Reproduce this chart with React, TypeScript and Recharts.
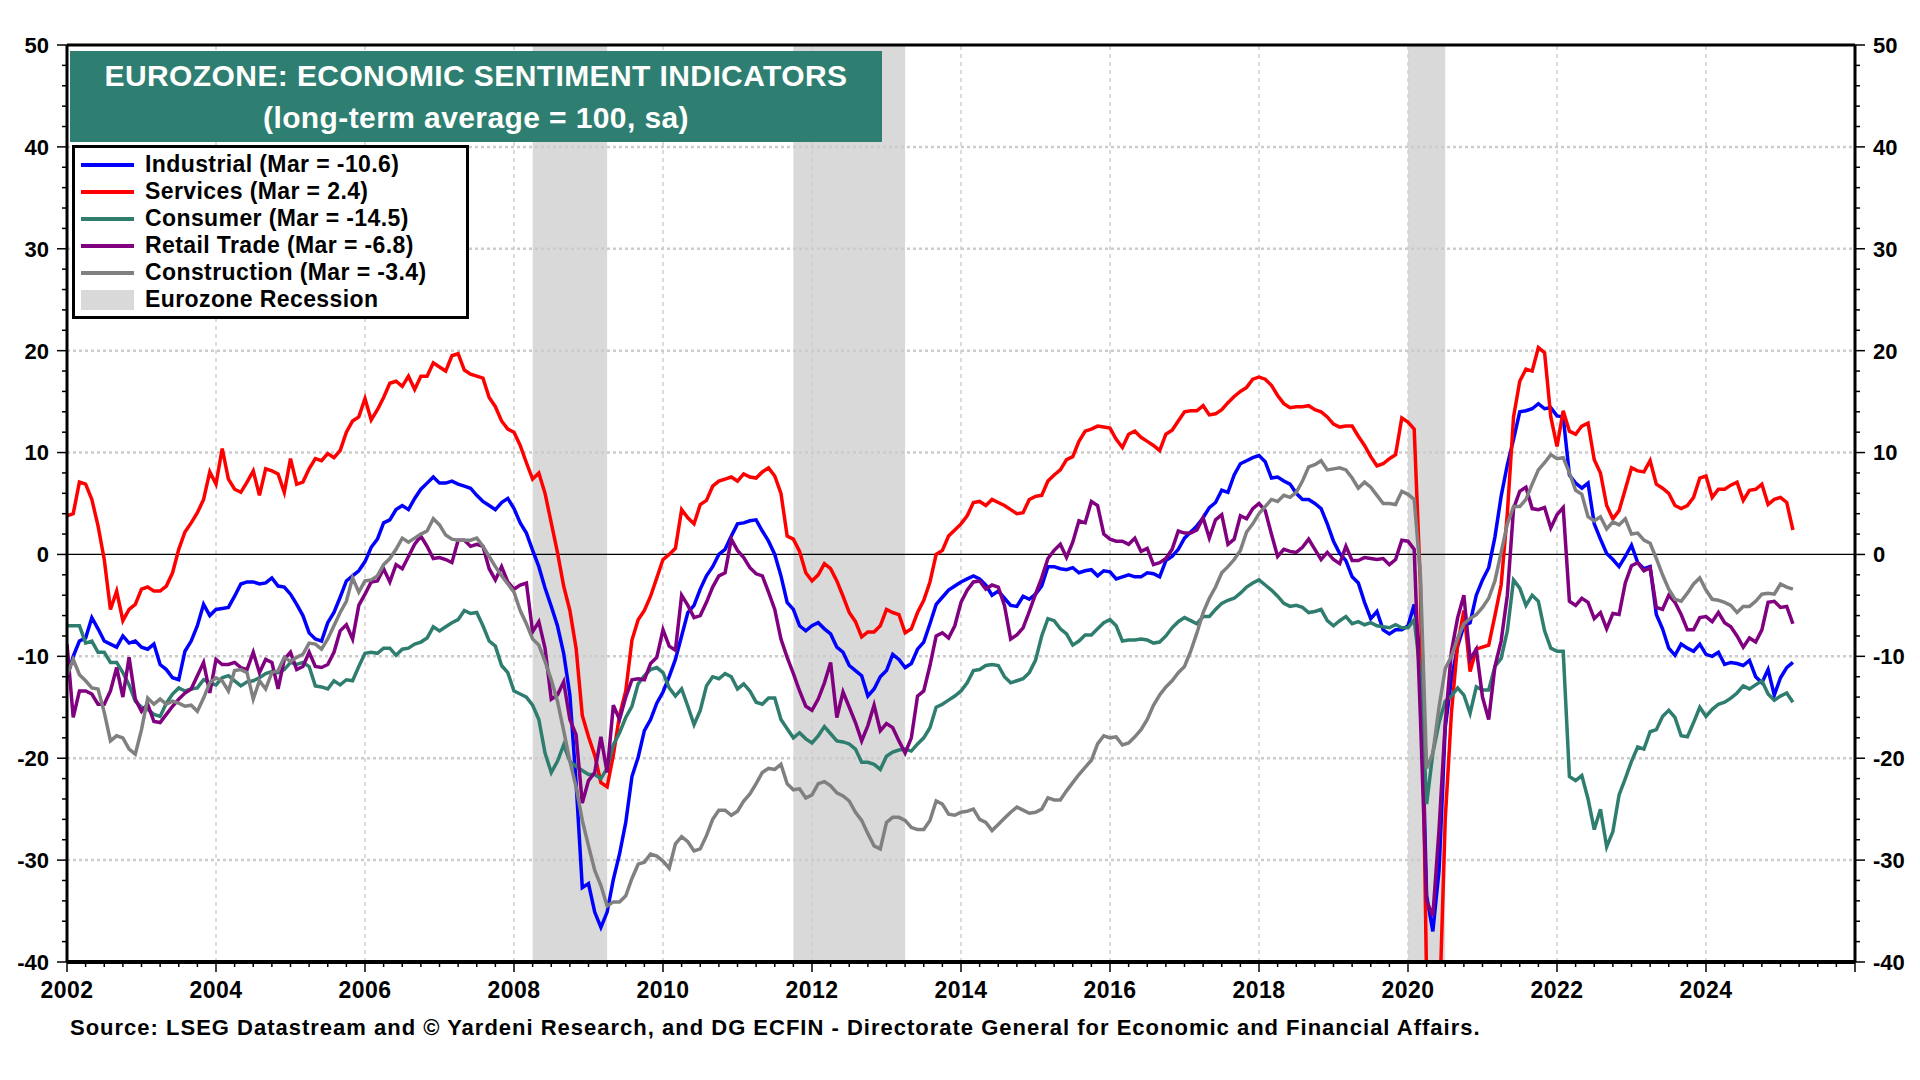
import React from 'react';
import { LineChart, Line, XAxis, YAxis, ReferenceArea, ReferenceLine } from 'recharts';

// monthly balances, Jan 2002 .. Mar 2025
const industrial = [
    -12.1, -10.0, -8.5, -8.2, -6.2, -7.3, -8.5, -8.8, -9.1, -8.0, -8.7, -8.5,
    -9.1, -9.3, -8.8, -10.8, -11.3, -12.1, -12.3, -9.5, -8.5, -7.0, -4.9, -6.0,
    -5.4, -5.3, -5.2, -4.1, -2.9, -2.7, -2.7, -2.9, -2.8, -2.3, -3.1, -3.2,
    -3.9, -4.9, -6.0, -7.7, -8.3, -8.5, -6.7, -5.7, -4.2, -2.6, -2.1, -1.6,
    -0.7, 0.7, 1.5, 3.1, 3.4, 4.4, 4.8, 4.4, 5.5, 6.4, 7.0, 7.6,
    7.0, 7.0, 7.2, 6.9, 6.7, 6.5, 5.8, 5.2, 4.8, 4.4, 5.1, 5.5,
    4.5, 3.1, 2.1, 0.4, -1.2, -3.3, -5.1, -7.0, -9.7, -13.8, -22.4, -32.7,
    -32.3, -35.1, -36.6, -35.1, -31.9, -29.4, -26.3, -21.8, -19.9, -17.3, -16.2, -14.6,
    -13.5, -12.0, -10.3, -8.0, -5.7, -5.0, -3.4, -2.1, -1.2, 0.0, 0.5, 1.8,
    3.0, 3.1, 3.3, 3.4, 2.3, 1.3, 0.0, -2.1, -4.7, -5.4, -7.0, -7.5,
    -7.0, -6.7, -7.3, -7.8, -9.1, -9.6, -10.9, -11.4, -11.9, -13.9, -13.2, -12.0,
    -11.4, -9.8, -10.3, -11.1, -10.7, -9.3, -8.6, -6.8, -4.9, -4.2, -3.5, -3.1,
    -2.7, -2.4, -2.1, -2.4, -3.0, -4.0, -3.6, -4.3, -5.0, -5.1, -4.1, -4.4,
    -3.9, -3.1, -1.2, -1.2, -1.4, -1.5, -1.3, -1.8, -1.6, -1.5, -2.1, -1.6,
    -1.7, -2.4, -2.2, -2.0, -2.2, -2.2, -1.8, -1.9, -2.2, -0.6, -0.2, 0.5,
    1.6, 2.2, 2.8, 3.6, 4.6, 5.1, 6.3, 6.1, 7.8, 8.9, 9.2, 9.5,
    9.7, 9.1, 7.5, 7.6, 7.2, 6.9, 6.0, 5.4, 5.4, 5.0, 4.5, 3.0,
    1.3, 0.1, -0.6, -2.2, -2.8, -4.7, -6.3, -5.6, -7.4, -7.8, -7.4, -7.4,
    -7.0, -4.9, -10.0, -33.5, -37.0, -31.0, -17.0, -12.2, -9.0, -7.0, -6.7, -4.0,
    -2.5, -1.3, 1.7, 5.7, 8.8, 11.3, 14.0, 14.1, 14.3, 14.8, 14.3, 14.4,
    13.6, 13.5, 7.8, 7.0, 6.5, 7.0, 3.0, 1.5, 0.1, -0.5, -1.2, -0.2,
    0.9, -0.8, -1.4, -1.2, -5.9, -7.3, -9.2, -9.9, -8.8, -9.2, -9.5, -8.8,
    -9.8, -10.0, -9.6, -10.8, -10.6, -10.7, -10.9, -10.4, -12.0, -12.6, -11.3, -13.8,
    -12.1, -11.1, -10.6,
];

const services = [
    3.8, 4.0, 7.1, 6.9, 5.4, 2.8, -0.5, -5.4, -3.6, -6.5, -5.4, -4.9,
    -3.4, -3.2, -3.6, -3.6, -3.1, -1.8, 0.5, 2.2, 3.1, 4.1, 5.4, 8.1,
    6.9, 10.4, 7.4, 6.4, 6.1, 7.1, 8.2, 5.8, 8.4, 8.2, 7.9, 6.1,
    9.4, 6.9, 7.1, 8.4, 9.4, 9.2, 9.9, 9.5, 10.2, 12.0, 13.1, 13.5,
    15.3, 13.2, 14.2, 15.4, 16.8, 17.0, 16.5, 17.5, 16.2, 17.5, 17.5, 18.8,
    18.4, 18.0, 19.5, 19.7, 18.1, 17.7, 17.5, 17.3, 15.4, 14.5, 13.1, 12.3,
    12.0, 10.7, 9.0, 7.4, 8.0, 6.0, 3.1, 0.2, -3.1, -5.5, -9.2, -15.8,
    -17.9, -19.7, -22.4, -22.8, -19.7, -15.8, -13.4, -8.4, -6.4, -5.5, -4.1, -2.3,
    -0.5, 0.0, 0.6, 4.4, 3.6, 3.0, 4.9, 5.3, 6.7, 7.2, 7.4, 7.6,
    7.2, 7.9, 7.6, 7.5, 8.1, 8.5, 7.7, 6.0, 1.8, 1.5, 0.3, -1.8,
    -2.6, -2.0, -0.9, -1.4, -2.6, -4.1, -5.7, -6.6, -8.1, -7.6, -7.6, -7.0,
    -5.4, -5.7, -5.9, -7.7, -7.3, -5.7, -4.5, -2.7, 0.0, 0.4, 1.8, 2.4,
    3.0, 3.8, 5.1, 5.2, 4.8, 5.4, 5.1, 4.8, 4.4, 4.0, 4.1, 5.4,
    5.7, 5.8, 7.2, 7.8, 8.3, 9.3, 9.6, 11.1, 12.1, 12.3, 12.6, 12.5,
    12.4, 11.3, 10.5, 11.8, 12.1, 11.5, 11.1, 10.7, 10.2, 11.8, 12.2, 13.1,
    14.0, 14.1, 14.1, 14.6, 13.7, 13.8, 14.2, 14.9, 15.5, 16.0, 16.4, 17.2,
    17.4, 17.2, 16.6, 15.6, 14.8, 14.4, 14.5, 14.5, 14.6, 14.2, 14.0, 13.5,
    12.8, 12.5, 12.6, 12.6, 11.6, 10.7, 9.6, 8.7, 8.9, 9.4, 9.8, 13.4,
    13.0, 12.3, -3.0, -42.0, -50.0, -46.0, -26.0, -15.5, -8.8, -5.5, -11.5, -9.3,
    -9.1, -8.9, -6.0, -3.0, 4.0, 13.5, 17.0, 18.2, 18.0, 20.3, 19.8, 13.5,
    10.6, 14.1, 12.1, 11.8, 12.6, 12.9, 9.3, 8.0, 4.8, 3.5, 4.3, 6.4,
    8.5, 8.2, 8.1, 9.2, 6.9, 6.5, 6.0, 4.8, 4.5, 4.8, 5.6, 7.5,
    7.7, 5.6, 6.4, 6.4, 6.8, 7.1, 5.3, 6.3, 6.4, 6.9, 4.9, 5.4,
    5.6, 5.1, 2.4,
];

const consumer = [
    -7.0, -7.0, -7.0, -8.7, -8.5, -9.6, -9.6, -10.6, -10.6, -11.6, -12.8, -14.4,
    -15.0, -15.2, -15.7, -15.9, -14.6, -13.7, -13.1, -13.4, -13.2, -13.1, -12.3, -12.6,
    -12.8, -12.1, -11.9, -12.4, -12.9, -12.5, -12.4, -12.1, -11.7, -11.5, -11.6, -11.3,
    -10.6, -10.8, -10.6, -11.0, -12.9, -13.0, -13.2, -12.4, -12.8, -12.3, -12.4, -11.0,
    -9.7, -9.6, -9.7, -9.2, -9.2, -9.9, -9.3, -9.2, -8.8, -8.6, -8.2, -7.1,
    -7.5, -7.1, -6.7, -6.4, -5.5, -5.8, -5.7, -7.0, -8.5, -9.0, -10.9, -11.6,
    -13.4, -13.7, -14.0, -14.8, -16.2, -19.5, -21.4, -20.3, -18.7, -20.3, -20.8, -21.2,
    -21.6, -21.6, -22.0, -21.0, -18.7, -17.5, -16.0, -14.9, -12.7, -11.9, -11.3, -11.1,
    -11.6, -13.1, -13.9, -13.2, -14.9, -16.7, -15.3, -12.9, -12.0, -12.2, -11.7, -12.0,
    -13.2, -12.7, -13.4, -14.5, -14.7, -14.1, -14.1, -16.2, -17.1, -18.0, -17.5, -18.1,
    -18.5, -17.8, -16.9, -17.6, -18.3, -18.4, -18.6, -19.1, -20.4, -20.4, -20.6, -21.1,
    -19.8, -19.4, -19.2, -19.1, -19.3, -18.6, -18.0, -17.0, -15.0, -14.7, -14.3, -13.9,
    -13.4, -12.6, -11.4, -11.3, -10.9, -10.8, -10.9, -12.0, -12.6, -12.4, -12.2, -11.6,
    -10.4, -8.0, -6.3, -6.5, -7.3, -7.8, -8.9, -8.5, -7.9, -7.9, -7.3, -6.7,
    -6.4, -7.0, -8.5, -8.4, -8.4, -8.3, -8.4, -8.7, -8.6, -8.0, -7.2, -6.6,
    -6.2, -6.5, -6.8, -6.1, -6.1, -5.4, -4.8, -4.5, -4.3, -3.8, -3.2, -2.8,
    -2.5, -3.0, -3.5, -4.1, -4.8, -5.1, -5.0, -5.2, -5.7, -5.6, -5.4, -6.5,
    -7.0, -6.5, -6.1, -6.8, -6.6, -6.9, -6.7, -7.0, -7.1, -7.2, -6.9, -7.2,
    -7.2, -6.4, -11.7, -24.5, -19.5, -16.5, -14.4, -13.9, -13.1, -13.8, -15.6, -13.0,
    -13.3, -13.3, -11.0, -10.2, -7.5, -2.5, -3.3, -5.0, -4.0, -4.6, -7.5, -9.2,
    -9.5, -9.5, -21.8, -22.2, -21.7, -24.0, -27.0, -25.0, -28.7, -27.2, -23.6, -22.0,
    -20.3, -18.9, -19.1, -17.4, -17.2, -15.9, -15.3, -16.0, -17.8, -17.9, -16.5, -15.0,
    -15.9, -15.2, -14.7, -14.5, -14.1, -13.6, -12.9, -13.2, -12.8, -12.4, -13.7, -14.3,
    -13.9, -13.6, -14.5,
];

const retail = [
    -8.8, -16.0, -13.4, -13.4, -13.7, -14.7, -14.7, -13.4, -11.1, -14.0, -10.1, -14.2,
    -15.4, -14.7, -16.4, -16.5, -15.7, -14.9, -14.2, -13.6, -13.2, -11.9, -10.6, -13.6,
    -10.3, -10.8, -10.8, -10.6, -11.1, -11.3, -9.6, -11.6, -10.3, -10.6, -13.2, -10.3,
    -9.6, -11.3, -11.0, -9.6, -11.0, -11.1, -10.8, -9.6, -7.5, -6.9, -8.3, -5.0,
    -3.9, -2.7, -2.6, -1.4, -2.7, -1.0, -1.4, -0.2, 1.0, 1.8, 0.8, -0.4,
    -0.3, -0.5, -0.8, 1.4, 1.4, 0.8, 1.0, 0.8, -1.4, -2.5, -1.2, -2.7,
    -3.4, -3.0, -2.8, -7.6, -6.6, -9.2, -14.2, -13.8, -12.5, -16.2, -17.7, -24.4,
    -22.2, -21.4, -17.9, -21.4, -14.8, -16.2, -14.0, -12.3, -12.2, -12.3, -10.7, -10.1,
    -7.4, -9.0, -9.4, -4.0, -5.0, -6.2, -6.0, -4.7, -3.2, -2.1, -1.8, 1.5,
    0.4, -0.3, -1.3, -1.9, -2.1, -3.7, -5.4, -8.3, -10.1, -11.7, -13.4, -14.9,
    -15.3, -14.2, -12.6, -10.6, -16.0, -13.5, -15.0, -16.5, -18.3, -16.8, -14.8, -17.3,
    -16.6, -17.0, -18.3, -19.5, -18.0, -13.9, -13.4, -10.9, -8.0, -7.7, -8.2, -7.0,
    -4.7, -3.5, -2.7, -2.6, -3.4, -3.0, -3.2, -5.0, -8.3, -7.9, -7.2, -5.6,
    -3.9, -2.3, -0.4, 0.4, 1.0, -0.3, 1.2, 3.3, 3.1, 5.2, 4.8, 2.0,
    1.5, 1.3, 1.3, 1.0, 1.6, 0.3, 0.6, -1.0, -0.8, -0.4, 0.5, 2.3,
    2.1, 2.1, 2.4, 3.6, 1.6, 3.4, 3.9, 1.0, 1.5, 3.8, 3.5, 4.5,
    5.0, 4.3, 2.0, -0.2, 0.5, 0.3, 0.2, 0.7, 1.5, 0.5, -0.5, 0.2,
    -0.5, -0.9, 0.8, -0.6, -0.6, -0.3, -0.4, -0.5, -0.4, -1.0, -0.5, 1.4,
    1.3, 0.5, -16.0, -34.0, -35.5, -27.0, -16.5, -9.5, -6.2, -4.0, -10.3, -9.3,
    -14.0, -16.2, -11.0, -8.5, -4.0, 4.5, 6.2, 6.6, 4.5, 4.4, 4.6, 2.6,
    3.9, 4.6, -4.6, -5.0, -4.3, -4.7, -6.3, -5.7, -7.3, -5.8, -5.9, -2.8,
    -1.1, -0.8, -1.6, -1.3, -5.2, -5.4, -4.0, -4.7, -5.9, -7.4, -7.4, -6.2,
    -6.1, -6.6, -5.7, -6.7, -7.1, -8.0, -9.1, -8.2, -8.6, -7.4, -4.7, -4.6,
    -5.2, -5.1, -6.8,
];

const construction = [
    -11.8, -10.3, -11.8, -12.4, -13.1, -13.2, -15.5, -18.3, -17.8, -18.0, -19.1, -19.6,
    -17.2, -14.1, -14.7, -14.2, -14.7, -14.4, -14.6, -14.9, -14.8, -15.4, -14.1, -12.6,
    -12.1, -12.4, -13.4, -11.4, -11.3, -11.6, -14.2, -12.4, -13.2, -11.6, -11.4, -10.1,
    -10.5, -10.1, -9.8, -8.7, -8.8, -9.3, -8.3, -7.0, -5.7, -4.6, -2.3, -3.7,
    -2.6, -2.5, -2.1, -1.0, -0.4, 0.5, 1.6, 1.2, 1.6, 2.0, 2.3, 3.5,
    2.9, 1.9, 1.5, 1.4, 1.4, 1.4, 1.6, 0.8, -0.2, -1.2, -2.1, -2.9,
    -3.7, -5.5, -6.8, -8.3, -8.9, -10.5, -12.3, -14.4, -17.3, -20.3, -22.8, -26.1,
    -28.6, -31.0, -32.5, -34.5, -34.1, -34.1, -33.5, -31.8, -30.4, -30.2, -29.4, -29.6,
    -30.1, -30.8, -28.4, -27.7, -28.2, -29.1, -28.9, -27.6, -26.0, -25.1, -25.1, -25.6,
    -25.2, -24.2, -23.5, -22.5, -21.4, -21.0, -21.1, -20.6, -22.5, -23.1, -23.0, -23.9,
    -23.6, -22.5, -22.3, -22.7, -23.4, -23.7, -24.2, -25.3, -26.1, -27.4, -28.6, -28.9,
    -26.3, -25.8, -25.8, -26.1, -26.8, -27.0, -27.0, -26.1, -24.2, -24.5, -25.5, -25.6,
    -25.3, -25.2, -25.0, -26.0, -26.3, -27.1, -26.5, -25.9, -25.3, -24.8, -25.1, -25.4,
    -25.3, -25.0, -23.9, -24.1, -24.1, -23.2, -22.4, -21.6, -20.9, -20.2, -18.6, -17.8,
    -18.0, -17.9, -18.7, -18.5, -17.9, -17.2, -16.2, -14.8, -13.8, -13.0, -12.4, -11.6,
    -11.0, -9.5, -7.7, -5.7, -4.3, -3.2, -1.8, -1.2, -0.5, 0.4, 2.2, 3.0,
    4.0, 4.7, 5.4, 5.2, 5.8, 5.6, 6.1, 7.2, 8.6, 8.8, 9.2, 8.3,
    8.4, 8.5, 8.3, 7.5, 6.5, 7.1, 6.6, 5.8, 5.0, 5.0, 4.9, 6.2,
    5.9, 5.4, -2.0, -21.0, -19.5, -15.0, -11.2, -10.0, -8.2, -6.8, -6.3, -5.9,
    -5.2, -4.3, -2.6, 0.2, 3.0, 4.7, 4.7, 5.4, 6.9, 8.3, 9.0, 9.8,
    9.4, 9.5, 8.0, 6.3, 5.9, 3.7, 3.3, 3.7, 2.5, 3.2, 2.9, 3.5,
    2.0, 2.1, 1.4, 1.1, -0.4, -2.0, -3.4, -4.4, -4.6, -3.8, -2.9, -2.3,
    -3.5, -4.4, -4.5, -4.7, -5.0, -5.7, -5.1, -5.1, -4.6, -3.9, -3.8, -3.9,
    -2.9, -3.2, -3.4,
];

const recessions = [
    [2008.25, 2009.25],
    [2011.75, 2013.25],
    [2020.0, 2020.5],
];

const series = [
    { key: 'industrial', label: 'Industrial (Mar = -10.6)', color: '#0000ff', values: industrial },
    { key: 'services', label: 'Services (Mar = 2.4)', color: '#ff0000', values: services },
    { key: 'consumer', label: 'Consumer (Mar = -14.5)', color: '#2e7d6e', values: consumer },
    { key: 'retail', label: 'Retail Trade (Mar = -6.8)', color: '#800080', values: retail },
    { key: 'construction', label: 'Construction (Mar = -3.4)', color: '#808080', values: construction },
];

const yMajor = [-40, -30, -20, -10, 0, 10, 20, 30, 40, 50];
const yTicks = Array.from({ length: 46 }, (_, i) => -40 + i * 2);
const xTicks = Array.from({ length: 97 }, (_, i) => 2002 + i / 4);
const xGridYears = [2004, 2006, 2008, 2010, 2012, 2014, 2016, 2018, 2020, 2022, 2024];

const data = industrial.map((_, i) => {
    const row: Record<string, number> = { t: 2002 + i / 12 };
    series.forEach(s => { row[s.key] = s.values[i]; });
    return row;
});

const FONT = '"Liberation Sans", Arial, Helvetica, sans-serif';

function YTick(props: any) {
    const { x, y, payload, side } = props;
    const v = payload.value;
    const major = v % 10 === 0;
    const dir = side === 'left' ? -1 : 1;
    return (
        <g>
            <line x1={x} x2={x + dir * (major ? 10 : 5)} y1={y} y2={y} stroke="#000" strokeWidth={1.5} />
            {major && (
                <text
                    x={x + dir * 18}
                    y={y}
                    dy="0.36em"
                    textAnchor={side === 'left' ? 'end' : 'start'}
                    fontFamily={FONT}
                    fontWeight="bold"
                    fontSize={22}
                    fill="#000"
                >
                    {v}
                </text>
            )}
        </g>
    );
}

function XTick(props: any) {
    const { x, y, payload } = props;
    const v = payload.value;
    const even = Number.isInteger(v) && v % 2 === 0;
    return (
        <g>
            <line x1={x} x2={x} y1={y} y2={y + (even ? 10 : 5)} stroke="#000" strokeWidth={1.5} />
            {even && v <= 2024 && (
                <text x={x} y={y + 36} textAnchor="middle" fontFamily={FONT} fontWeight="bold" fontSize={23} letterSpacing={0.4} fill="#000">
                    {v}
                </text>
            )}
        </g>
    );
}

export default function App() {
    return (
        <div style={{ position: 'absolute', left: 0, top: 0, width: 1920, height: 1080, background: '#fff', fontFamily: FONT }}>
            <LineChart width={1920} height={1080} data={data} margin={{ top: 45, right: 5, bottom: 68, left: 7 }}>
                <XAxis
                    dataKey="t"
                    type="number"
                    domain={[2002, 2026]}
                    ticks={xTicks}
                    interval={0}
                    height={50}
                    tickSize={0}
                    tickMargin={0}
                    tickLine={false}
                    axisLine={{ stroke: '#000', strokeWidth: 4 }}
                    tick={<XTick />}
                    allowDataOverflow
                />
                <YAxis
                    yAxisId="left"
                    orientation="left"
                    domain={[-40, 50]}
                    ticks={yTicks}
                    interval={0}
                    width={60}
                    tickSize={0}
                    tickMargin={0}
                    tickLine={false}
                    axisLine={{ stroke: '#000', strokeWidth: 3 }}
                    tick={<YTick side="left" />}
                    allowDataOverflow
                />
                <YAxis
                    yAxisId="right"
                    orientation="right"
                    domain={[-40, 50]}
                    ticks={yTicks}
                    interval={0}
                    width={60}
                    tickSize={0}
                    tickMargin={0}
                    tickLine={false}
                    axisLine={{ stroke: '#000', strokeWidth: 3 }}
                    tick={<YTick side="right" />}
                    allowDataOverflow
                />
                {recessions.map(([a, b]) => (
                    <ReferenceArea key={a} yAxisId="left" x1={a} x2={b} y1={-40} y2={50} fill="#d9d9d9" fillOpacity={1} stroke="none" />
                ))}
                {xGridYears.map(yr => (
                    <ReferenceLine key={yr} yAxisId="left" x={yr} stroke="#cfcfcf" strokeWidth={1.5} strokeDasharray="4 4" />
                ))}
                {yMajor.filter(v => v !== 0 && v !== -40 && v !== 50).map(v => (
                    <ReferenceLine key={v} yAxisId="left" y={v} stroke="#cccccc" strokeWidth={2.5} strokeDasharray="3 3" />
                ))}
                <ReferenceLine yAxisId="left" y={0} stroke="#000" strokeWidth={1.2} />
                <ReferenceLine yAxisId="left" y={50} stroke="#000" strokeWidth={3} />
                {series.map(s => (
                    <Line
                        key={s.key}
                        yAxisId="left"
                        type="linear"
                        dataKey={s.key}
                        stroke={s.color}
                        strokeWidth={3.5}
                        dot={false}
                        activeDot={false}
                        isAnimationActive={false}
                    />
                ))}
            </LineChart>

            {/* title */}
            <div
                style={{
                    position: 'absolute', left: 70, top: 51, width: 812, height: 91,
                    background: '#2e7f71', color: '#fff', fontWeight: 'bold', fontSize: 30,
                    letterSpacing: 0.4,
                    display: 'flex', flexDirection: 'column', justifyContent: 'center', alignItems: 'center',
                    lineHeight: '42px', fontFamily: FONT,
                }}
            >
                <div>EUROZONE: ECONOMIC SENTIMENT INDICATORS</div>
                <div>(long-term average = 100, sa)</div>
            </div>

            {/* legend */}
            <div
                style={{
                    position: 'absolute', left: 72, top: 145, width: 391, height: 165,
                    border: '3px solid #000', background: '#fff', padding: '3px 0 0 0',
                    fontFamily: FONT, fontWeight: 'bold', fontSize: 23, letterSpacing: 0.4, color: '#000',
                }}
            >
                {series.map(s => (
                    <div key={s.key} style={{ display: 'flex', alignItems: 'center', height: 27 }}>
                        <div style={{ width: 53, height: 4, background: s.color, marginLeft: 6, marginRight: 11 }} />
                        <span>{s.label}</span>
                    </div>
                ))}
                <div style={{ display: 'flex', alignItems: 'center', height: 27 }}>
                    <div style={{ width: 53, height: 20, background: '#d9d9d9', marginLeft: 6, marginRight: 11 }} />
                    <span>Eurozone Recession</span>
                </div>
            </div>

            {/* source */}
            <div
                style={{
                    position: 'absolute', left: 70, top: 1015, fontFamily: FONT, fontWeight: 'bold',
                    fontSize: 22, letterSpacing: 1, color: '#000', whiteSpace: 'nowrap',
                }}
            >
                Source: LSEG Datastream and © Yardeni Research, and DG ECFIN - Directorate General for Economic and Financial Affairs.
            </div>
        </div>
    );
}
